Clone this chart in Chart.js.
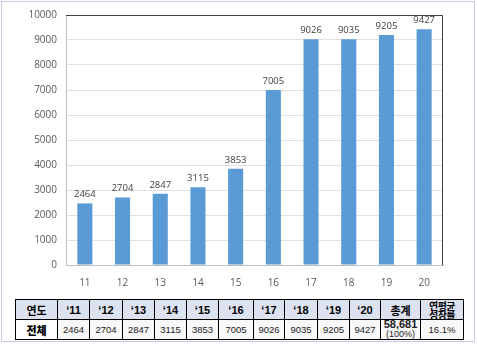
<!DOCTYPE html>
<html>
<head>
<meta charset="utf-8">
<script src="https://cdn.jsdelivr.net/npm/chart.js@4"></script>
<style>
  body { margin: 0; background: #fff; }
  #frame {
    position: absolute; left: 1px; top: 1px; width: 472px; height: 339px;
    border: 1.5px solid #c9c9ec;
  }
  #myChart { position: absolute; left: 0; top: 0; }
  table {
    position: absolute; left: 15px; top: 299px; width: 448px;
    border-collapse: collapse; table-layout: fixed;
    font-family: "Liberation Sans", Arial, sans-serif;
  }
  td {
    border: 1.5px solid #000; text-align: center; padding: 0;
    height: 19px; font-size: 9.5px; color: #222; overflow: hidden;
  }
  tr.head td { background: #dde2f1; font-weight: bold; font-size: 11px; color: #000; }
  tr.body td { background: #f8f8f8; }
  td.ko { font-family: "Noto Sans CJK KR", sans-serif; font-weight: 900; font-size: 11px; color: #000; }
  tr.body td.ko { background: #fff; }
  tr.head td.small { font-size: 10px; line-height: 9px; letter-spacing: -0.5px; }
  td.total { line-height: 9px; font-size: 9px; }
</style>
</head>
<body>
<div id="frame"></div>
<canvas id="myChart" width="477" height="290"></canvas>
<table id="tbl">
  <colgroup>
    <col style="width:42px"><col style="width:32px"><col style="width:33px"><col style="width:32px">
    <col style="width:32px"><col style="width:32px"><col style="width:35px"><col style="width:31px">
    <col style="width:33px"><col style="width:32px"><col style="width:31px"><col style="width:40px">
    <col style="width:43px">
  </colgroup>
  <tr class="head" id="headRow"></tr>
  <tr class="body" id="bodyRow"></tr>
</table>
<script>
var years = ["11", "12", "13", "14", "15", "16", "17", "18", "19", "20"];
var values = [2464, 2704, 2847, 3115, 3853, 7005, 9026, 9035, 9205, 9427];
var yearLabels = ["‘11", "‘12", "‘13", "‘14", "‘15", "‘16", "‘17", "‘18", "‘19", "‘20"];
var total = "58,681";
var growth = "16.1%";

// table
var head = document.getElementById("headRow");
var body = document.getElementById("bodyRow");
var h = '<td class="ko">연도</td>';
var b = '<td class="ko">전체</td>';
for (var i = 0; i < years.length; i++) {
  h += "<td>" + yearLabels[i] + "</td>";
  b += "<td>" + values[i] + "</td>";
}
h += '<td class="ko">총계</td><td class="ko small">연평균<br>성장률</td>';
b += '<td class="total"><b style="font-size:11px">' + total + '</b><br>(100%)</td><td>' + growth + "</td>";
head.innerHTML = h;
body.innerHTML = b;

// value labels above bars + top/right border of plot
var extras = {
  id: "extras",
  afterDatasetsDraw: function (chart) {
    var ctx = chart.ctx;
    var a = chart.chartArea;
    ctx.save();
    ctx.strokeStyle = "#404040";
    ctx.lineWidth = 1;
    ctx.beginPath();
    ctx.moveTo(a.left, a.top + 0.5);
    ctx.lineTo(a.right - 0.5, a.top + 0.5);
    ctx.lineTo(a.right - 0.5, a.bottom);
    ctx.stroke();
    ctx.fillStyle = "#404040";
    ctx.font = "9.5px 'Open Sans', sans-serif";
    ctx.textAlign = "center";
    ctx.textBaseline = "bottom";
    chart.getDatasetMeta(0).data.forEach(function (bar, i) {
      ctx.fillText(values[i], bar.x, bar.y - 4);
    });
    ctx.restore();
  }
};

new Chart("myChart", {
  type: "bar",
  data: {
    labels: years,
    datasets: [
      {
        data: values,
        backgroundColor: "#5b9bd5",
        categoryPercentage: 1,
        barPercentage: 0.4,
      },
    ],
  },
  options: {
    responsive: false,
    animation: false,
    layout: { padding: { top: 8, right: 34, left: 0, bottom: 0 } },
    plugins: { legend: { display: false }, tooltip: { enabled: false } },
    scales: {
      x: {
        grid: { display: false },
        border: { color: "#bfbfbf" },
        ticks: { color: "#595959", font: { size: 10, family: "'Open Sans', sans-serif" }, padding: 4 },
        afterFit: function (s) { s.height = 25; },
      },
      y: {
        min: 0,
        max: 10000,
        grid: { color: "#e0e0e0", drawTicks: false },
        border: { color: "#bfbfbf" },
        ticks: {
          stepSize: 1000, color: "#595959", font: { size: 10, family: "'Open Sans', sans-serif" }, padding: 9,
          callback: function (v) { return String(v); },
        },
        afterFit: function (s) { s.width = 66; },
      },
    },
  },
  plugins: [extras],
});
</script>
</body>
</html>
